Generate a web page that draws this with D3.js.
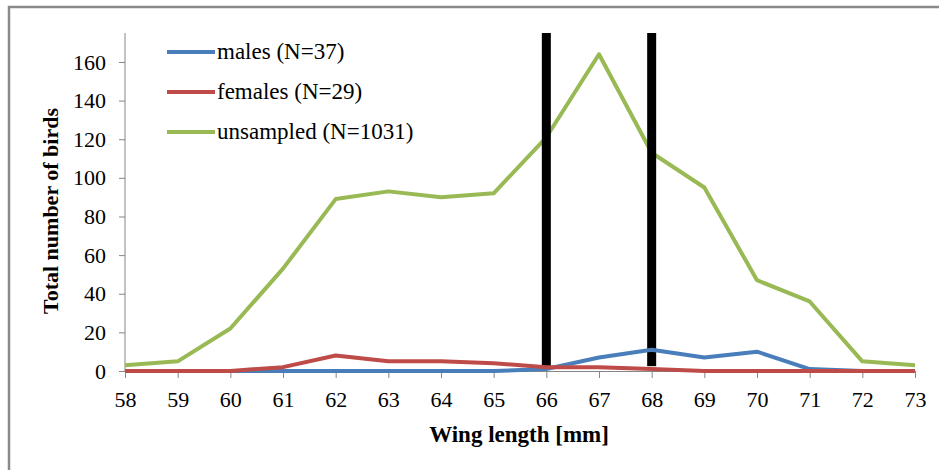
<!DOCTYPE html>
<html>
<head>
<meta charset="utf-8">
<script src="https://cdn.jsdelivr.net/npm/d3@7"></script>
<style>
  html, body { margin: 0; padding: 0; background: #fff; }
  svg { display: block; }
</style>
</head>
<body>
<svg id="chart" width="939" height="470"></svg>
<script>
// ---- data ----
const wingLengths = [58, 59, 60, 61, 62, 63, 64, 65, 66, 67, 68, 69, 70, 71, 72, 73];
const males      = [0, 0, 0, 0, 0, 0, 0, 0, 1, 7, 11, 7, 10, 1, 0, 0];
const females    = [0, 0, 0, 2, 8, 5, 5, 4, 2, 2, 1, 0, 0, 0, 0, 0];
const unsampled  = [3, 5, 22, 53, 89, 93, 90, 92, 121, 164, 113, 95, 47, 36, 5, 3];
const seriesNames = ["males (N=37)", "females (N=29)", "unsampled (N=1031)"];
const seriesColors = ["#4A7EBB", "#BE4B48", "#98B954"];
const yTicks = [0, 20, 40, 60, 80, 100, 120, 140, 160];
const cutoffs = [66, 68];
const yMax = 175;

// ---- layout ----
const svg = d3.select("#chart");
const plotLeft = 125, plotRight = 915, plotTop = 33, plotBottom = 371;

const x = d3.scaleLinear().domain([58, 73]).range([plotLeft, plotRight]);
const y = d3.scaleLinear().domain([0, yMax]).range([plotBottom, plotTop]);

const serif = "'Liberation Serif', 'Times New Roman', serif";
const axisColor = "#868686";

// outer border (partial frame, as in the cropped figure)
svg.append("path")
  .attr("d", "M9,470 L9,7 L939,7")
  .attr("fill", "none")
  .attr("stroke", "#8a8a8a")
  .attr("stroke-width", 2.5);

// y axis
const yAxis = d3.axisLeft(y).tickValues(yTicks).tickSize(6).tickPadding(13).tickSizeOuter(0);
const gy = svg.append("g").attr("transform", `translate(${plotLeft},0)`).call(yAxis);
gy.select(".domain").attr("stroke", axisColor).attr("d", `M0,${plotTop}V${plotBottom}`);
gy.selectAll(".tick line").attr("stroke", axisColor);
gy.selectAll(".tick text")
  .attr("font-family", serif).attr("font-size", 22).attr("fill", "#000");

// x axis
const xAxis = d3.axisBottom(x).tickValues(wingLengths).tickSize(7).tickPadding(13).tickSizeOuter(0)
  .tickFormat(d3.format("d"));
const gx = svg.append("g").attr("transform", `translate(0,${plotBottom})`).call(xAxis);
gx.select(".domain").attr("stroke", axisColor);
gx.selectAll(".tick line").attr("stroke", axisColor);
gx.selectAll(".tick text")
  .attr("font-family", serif).attr("font-size", 22).attr("fill", "#000");

// axis titles
svg.append("text")
  .attr("x", (plotLeft + plotRight) / 2 - 1).attr("y", 442)
  .attr("text-anchor", "middle")
  .attr("font-family", serif).attr("font-weight", "bold").attr("font-size", 23)
  .text("Wing length [mm]");

svg.append("text")
  .attr("transform", `translate(58,211) rotate(-90)`)
  .attr("text-anchor", "middle")
  .attr("font-family", serif).attr("font-weight", "bold").attr("font-size", 22)
  .text("Total number of birds");

// series lines
const allSeries = [males, females, unsampled];
const line = d3.line().x((d, i) => x(wingLengths[i])).y(d => y(d));

svg.append("path")
  .datum(unsampled)
  .attr("d", line)
  .attr("fill", "none")
  .attr("stroke", seriesColors[2])
  .attr("stroke-width", 4)
  .attr("stroke-linejoin", "round");

// cutoff bars
svg.selectAll("rect.cutoff")
  .data(cutoffs)
  .enter().append("rect")
  .attr("class", "cutoff")
  .attr("x", d => x(d) - 4.5)
  .attr("width", 9)
  .attr("y", y(yMax))
  .attr("height", y(2.5) - y(yMax))
  .attr("fill", "#000");

[0, 1].forEach(k => {
  svg.append("path")
    .datum(allSeries[k])
    .attr("d", line)
    .attr("fill", "none")
    .attr("stroke", seriesColors[k])
    .attr("stroke-width", 4)
    .attr("stroke-linejoin", "round");
});

// legend
const legend = svg.append("g");
seriesNames.forEach((name, i) => {
  const ly = 52 + i * 40;
  legend.append("line")
    .attr("x1", 167).attr("x2", 215).attr("y1", ly).attr("y2", ly)
    .attr("stroke", seriesColors[i]).attr("stroke-width", 4);
  legend.append("text")
    .attr("x", 217).attr("y", ly + 7)
    .attr("font-family", serif).attr("font-size", 23).attr("fill", "#000")
    .text(name);
});
</script>
</body>
</html>
